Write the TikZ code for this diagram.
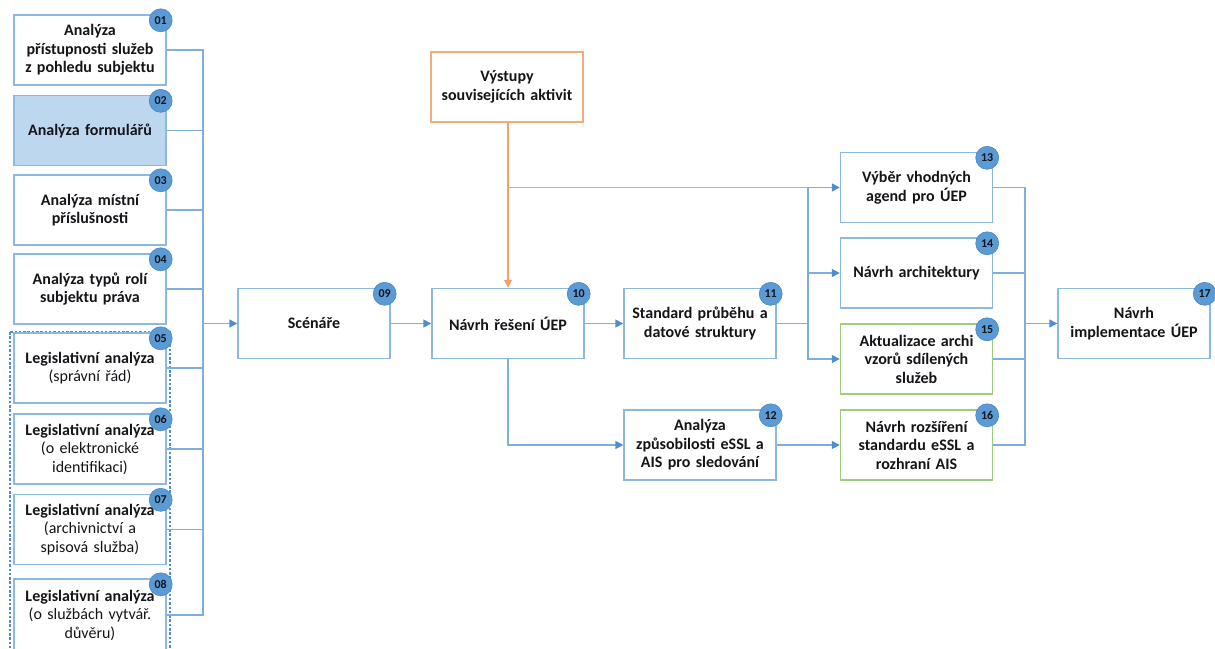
\documentclass[tikz,border=0pt]{standalone}
\usepackage{fontspec}
\setmainfont{Carlito}
\usetikzlibrary{arrows.meta,calc}
\definecolor{boxblue}{RGB}{140,184,226}
\definecolor{lineblue}{RGB}{125,174,222}
\definecolor{tipblue}{RGB}{80,140,208}
\definecolor{badgefill}{RGB}{91,155,213}
\definecolor{badgedraw}{RGB}{75,135,195}
\definecolor{boxorange}{RGB}{244,172,125}
\definecolor{lineorange}{RGB}{248,160,100}
\definecolor{boxgreen}{RGB}{160,204,130}
\definecolor{fillblue}{RGB}{189,215,238}
\definecolor{txt}{RGB}{20,20,25}
\newcommand\mkbadge[2]{\node[badge] (#1b) at ([shift={(-6pt,-6pt)}]#1.north east) {#2};}
\begin{document}
\begin{tikzpicture}[x=1pt,y=-1pt,
  box/.style={draw=boxblue, line width=1.4pt, fill=white, minimum width=152pt,
    minimum height=70pt, align=center, text width=148pt, inner sep=0pt,
    text=txt, font=\fontsize{16}{18.5}\selectfont\bfseries},
  badge/.style={circle, draw=badgedraw, line width=0.6pt, fill=badgefill,
    minimum size=23pt, inner sep=0pt, text=txt, font=\fontsize{12}{12}\selectfont\bfseries},
  conn/.style={draw=lineblue, line width=1.5pt},
  arr/.style={conn, -{Triangle[length=8pt,width=8pt,color=tipblue]}},
  oconn/.style={draw=lineorange, line width=1.5pt},
  oarr/.style={oconn, -{Triangle[length=8pt,width=8pt,color=lineorange]}},
  leg/.style={box, font=\fontsize{16}{18.5}\selectfont}
]
\useasboundingbox (0,0) rectangle (1215,648);
\clip (0,0) rectangle (1215,648);
% dashed container
\draw[draw=tipblue, line width=1.1pt, dash pattern=on 2.5pt off 1.8pt] (10,332) rectangle (170,670);
% left column
\node[box] (n01) at (90,50) {Analýza\\přístupnosti služeb\\z pohledu subjektu};
\node[box, fill=fillblue] (n02) at (90,130.5) {Analýza formulářů};
\node[box] (n03) at (90,210) {Analýza místní\\příslušnosti};
\node[box] (n04) at (90,289) {Analýza typů rolí\\subjektu práva};
\node[leg] (n05) at (90,368) {\textbf{Legislativní analýza}\\(správní řád)};
\node[leg] (n06) at (90,449) {\textbf{Legislativní analýza}\\(o elektronické\\identifikaci)};
\node[leg] (n07) at (90,529.5) {\textbf{Legislativní analýza}\\(archivnictví a\\spisová služba)};
\node[leg, minimum height=72pt] (n08) at (90,615) {\textbf{Legislativní analýza}\\(o službách vytvář.\\důvěru)};
% middle
\node[box] (n09) at (314,323.5) {Scénáře};
\node[box] (n10) at (508,323.5) {Návrh řešení ÚEP};
\node[box, draw=boxorange] (n00) at (507,87) {Výstupy\\souvisejících aktivit};
\node[box] (n11) at (700,323.5) {Standard průběhu a\\datové struktury};
\node[box] (n12) at (700,445) {Analýza\\způsobilosti eSSL a\\AIS pro sledování};
\node[box] (n13) at (916.5,187.5) {Výběr vhodných\\agend pro ÚEP};
\node[box] (n14) at (916.5,273) {Návrh architektury\\[12pt]};
\node[box, draw=boxgreen] (n15) at (916.5,359) {Aktualizace archi\\vzorů sdílených\\služeb};
\node[box, draw=boxgreen] (n16) at (916.5,445) {Návrh rozšíření\\standardu eSSL a\\rozhraní AIS};
\node[box] (n17) at (1134,323.5) {Návrh\\implementace ÚEP};
% bus coordinates
\coordinate (bL) at (203,323.5);
\coordinate (b1) at (808,323.5);
\coordinate (b2) at (1025,323.5);
% left bus
\foreach \n in {n01,n02,n03,n04,n05,n06,n07,n08}{\draw[conn] (\n.east) -| (bL);}
\draw[arr] (bL) -- (n09.west);
\draw[arr] (n09) -- (n10);
\draw[arr] (n10) -- (n11);
% orange
\draw[oarr] (n00.south -| n10.north) -- (n10.north);
\draw[oconn] (n10.north |- n13.west) -- (b1 |- n13.west);
% bus 1
\draw[conn] (n11.east) -- (b1);
\draw[arr] (b1) |- (n13.west);
\draw[arr] (b1) |- (n14.west);
\draw[arr] (b1) |- (n15.west);
% lower branch
\draw[arr] (n10.south) |- (n12.west);
\draw[arr] (n12) -- (n16);
% bus 2
\foreach \n in {n13,n14,n15,n16}{\draw[conn] (\n.east) -| (b2);}
\draw[arr] (b2) -- (n17.west);
% badges
\mkbadge{n01}{01}
\mkbadge{n02}{02}
\mkbadge{n03}{03}
\mkbadge{n04}{04}
\mkbadge{n05}{05}
\mkbadge{n06}{06}
\mkbadge{n07}{07}
\mkbadge{n08}{08}
\mkbadge{n09}{09}
\mkbadge{n10}{10}
\mkbadge{n11}{11}
\mkbadge{n12}{12}
\mkbadge{n13}{13}
\mkbadge{n14}{14}
\mkbadge{n15}{15}
\mkbadge{n16}{16}
\mkbadge{n17}{17}
\end{tikzpicture}
\end{document}
